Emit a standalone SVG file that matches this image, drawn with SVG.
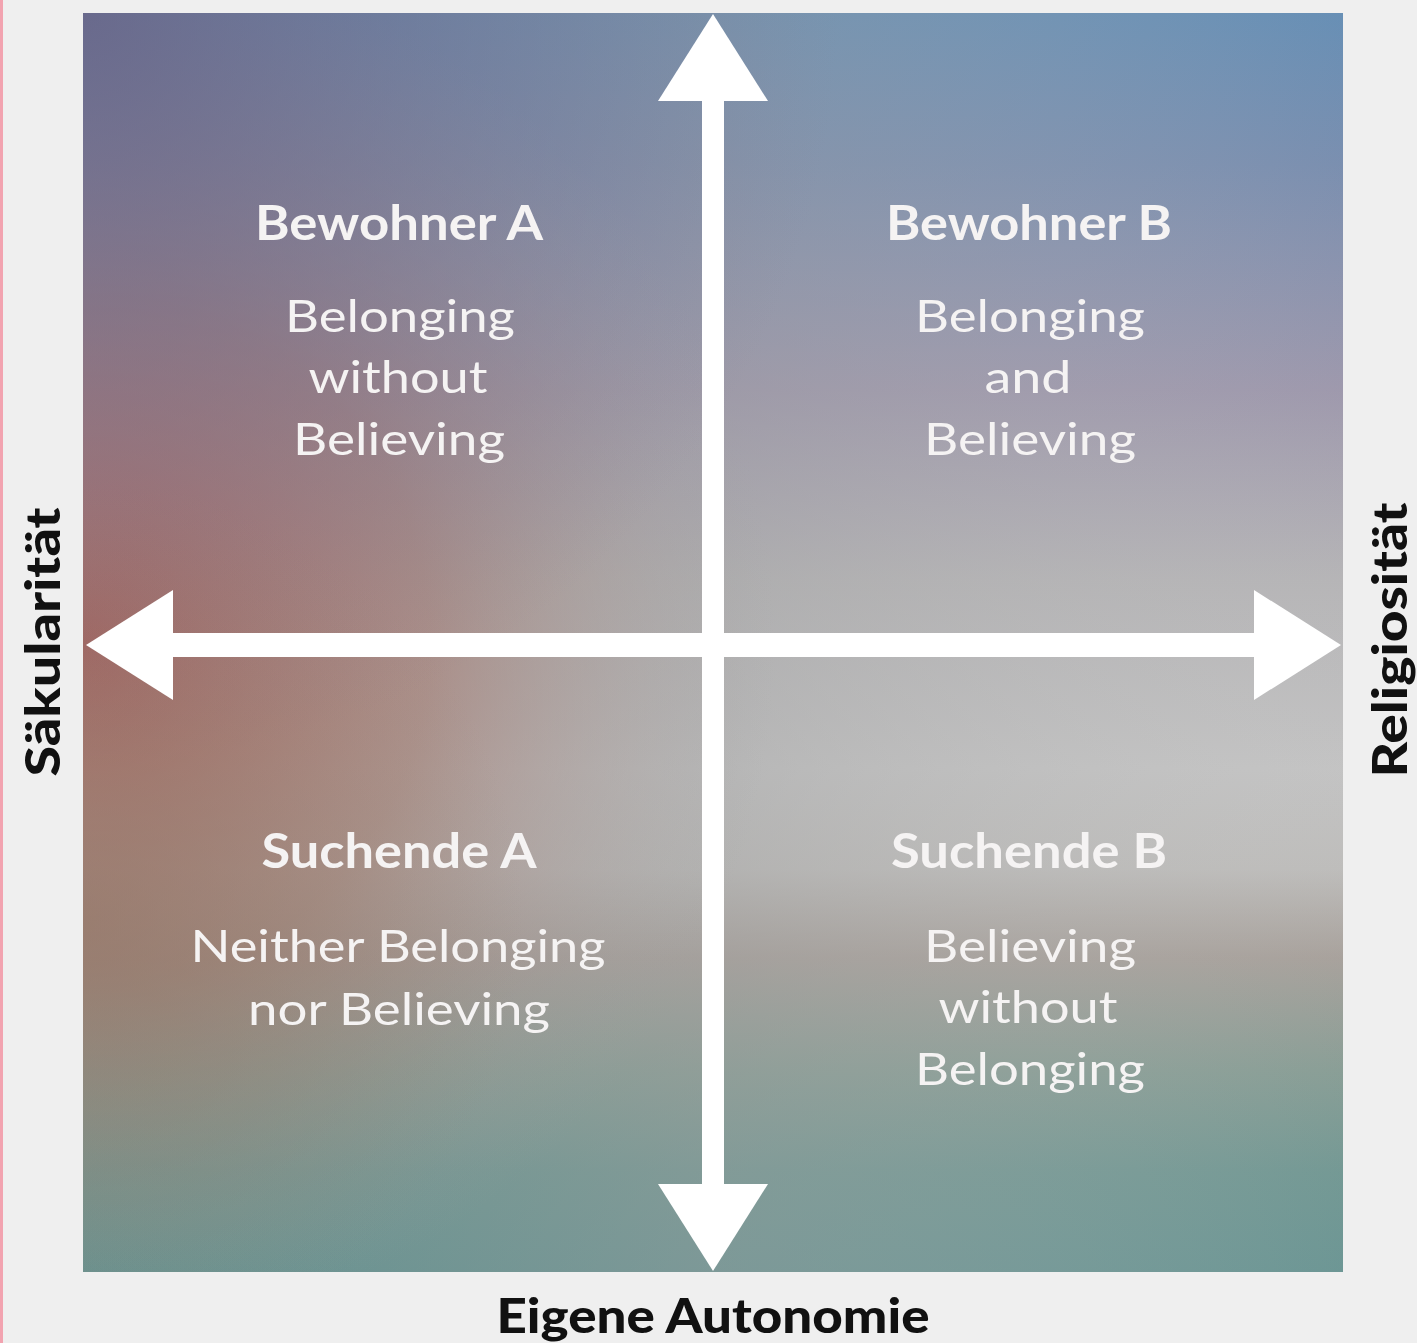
<svg xmlns="http://www.w3.org/2000/svg" width="1417" height="1343" viewBox="0 0 1417 1343">
<defs>
<style>
.q{font-family:Lato,"Open Sans","Liberation Sans",sans-serif;fill:#f5f3f3;text-anchor:middle}
.h{font-weight:700;font-size:47px}
.t{font-weight:400;font-size:45px}
.ax{font-family:Lato,"Open Sans","Liberation Sans",sans-serif;font-weight:900;font-size:48px;fill:#111;text-anchor:middle}
.arr{stroke:#ffffff;fill:none}
</style>
<linearGradient id="gv" x1="0" y1="0" x2="0" y2="1">
<stop offset="0" stop-color="#5d89b3"/>
<stop offset="0.12" stop-color="#7289ad"/>
<stop offset="0.3" stop-color="#9a94aa"/>
<stop offset="0.45" stop-color="#b4b3b5"/>
<stop offset="0.6" stop-color="#c3c3c3"/>
<stop offset="0.68" stop-color="#bdbcba"/>
<stop offset="0.75" stop-color="#a59e98"/>
<stop offset="0.84" stop-color="#839a91"/>
<stop offset="0.92" stop-color="#6b948f"/>
<stop offset="1" stop-color="#63918f"/>
</linearGradient>
<radialGradient id="gred" cx="0" cy="0.5" r="0.55" gradientUnits="objectBoundingBox">
<stop offset="0" stop-color="#aa605b" stop-opacity="1"/>
<stop offset="0.5" stop-color="#a3766c" stop-opacity="0.6"/>
<stop offset="1" stop-color="#a0a0a0" stop-opacity="0"/>
</radialGradient>
<radialGradient id="gpur" cx="0" cy="0" r="0.6" gradientUnits="objectBoundingBox">
<stop offset="0" stop-color="#6a6486" stop-opacity="0.85"/>
<stop offset="1" stop-color="#7e7590" stop-opacity="0"/>
</radialGradient>
<radialGradient id="gbrn" cx="0" cy="0.72" r="0.35" gradientUnits="objectBoundingBox">
<stop offset="0" stop-color="#8e7866" stop-opacity="0.55"/>
<stop offset="1" stop-color="#8a8a78" stop-opacity="0"/>
</radialGradient>
<linearGradient id="gmid" x1="0" y1="0" x2="1" y2="0">
<stop offset="0" stop-color="#a0a0a0" stop-opacity="0"/>
<stop offset="0.5" stop-color="#a4a4a4" stop-opacity="0.4"/>
<stop offset="1" stop-color="#c8c8c8" stop-opacity="0.1"/>
</linearGradient>
<marker id="ah" viewBox="0 -56 88 112" markerUnits="userSpaceOnUse" markerWidth="88" markerHeight="112" refX="1" refY="0" orient="auto-start-reverse">
<path d="M0,-55 L87,0 L0,55 Z" fill="#ffffff"/>
</marker>
</defs>
<rect x="0" y="0" width="1417" height="1343" fill="#efefef"/>
<rect x="0" y="0" width="3" height="1343" fill="#f2a3b0"/>
<g id="field">
<rect x="83" y="13" width="1260" height="1259" fill="url(#gv)"/>
<rect x="83" y="13" width="1260" height="1259" fill="url(#gmid)"/>
<rect x="83" y="13" width="1260" height="1259" fill="url(#gred)"/>
<rect x="83" y="13" width="1260" height="1259" fill="url(#gpur)"/>
<rect x="83" y="13" width="1260" height="1259" fill="url(#gbrn)"/>
</g>
<g id="connectors">
<line class="arr" x1="713" y1="100" x2="713" y2="1185" stroke-width="22" marker-start="url(#ah)" marker-end="url(#ah)"/>
<line class="arr" x1="172" y1="645" x2="1255" y2="645" stroke-width="24" marker-start="url(#ah)" marker-end="url(#ah)"/>
</g>
<g id="bewohner-a">
<text class="q h" x="399" y="240" textLength="288" lengthAdjust="spacingAndGlyphs">Bewohner A</text>
<text class="q t" x="400" y="332" textLength="230" lengthAdjust="spacingAndGlyphs">Belonging</text>
<text class="q t" x="398" y="393" textLength="179" lengthAdjust="spacingAndGlyphs">without</text>
<text class="q t" x="399" y="455" textLength="212" lengthAdjust="spacingAndGlyphs">Believing</text>
</g>
<g id="bewohner-b">
<text class="q h" x="1029" y="240" textLength="286" lengthAdjust="spacingAndGlyphs">Bewohner B</text>
<text class="q t" x="1030" y="332" textLength="230" lengthAdjust="spacingAndGlyphs">Belonging</text>
<text class="q t" x="1028" y="393" textLength="87" lengthAdjust="spacingAndGlyphs">and</text>
<text class="q t" x="1030" y="455" textLength="212" lengthAdjust="spacingAndGlyphs">Believing</text>
</g>
<g id="suchende-a">
<text class="q h" x="399" y="868" textLength="275" lengthAdjust="spacingAndGlyphs">Suchende A</text>
<text class="q t" x="398" y="962" textLength="415" lengthAdjust="spacingAndGlyphs">Neither Belonging</text>
<text class="q t" x="399" y="1025" textLength="302" lengthAdjust="spacingAndGlyphs">nor Believing</text>
</g>
<g id="suchende-b">
<text class="q h" x="1029" y="868" textLength="276" lengthAdjust="spacingAndGlyphs">Suchende B</text>
<text class="q t" x="1030" y="962" textLength="212" lengthAdjust="spacingAndGlyphs">Believing</text>
<text class="q t" x="1028" y="1023" textLength="179" lengthAdjust="spacingAndGlyphs">without</text>
<text class="q t" x="1030" y="1085" textLength="230" lengthAdjust="spacingAndGlyphs">Belonging</text>
</g>
<g id="axis-labels">
<text class="ax" x="713" y="1333" font-size="46" textLength="433" lengthAdjust="spacingAndGlyphs">Eigene Autonomie</text>
<text class="ax" transform="translate(60,642) rotate(-90)" x="0" y="0" textLength="269" lengthAdjust="spacingAndGlyphs">Säkularität</text>
<text class="ax" transform="translate(1407,640) rotate(-90)" x="0" y="0" textLength="275" lengthAdjust="spacingAndGlyphs">Religiosität</text>
</g>
</svg>
